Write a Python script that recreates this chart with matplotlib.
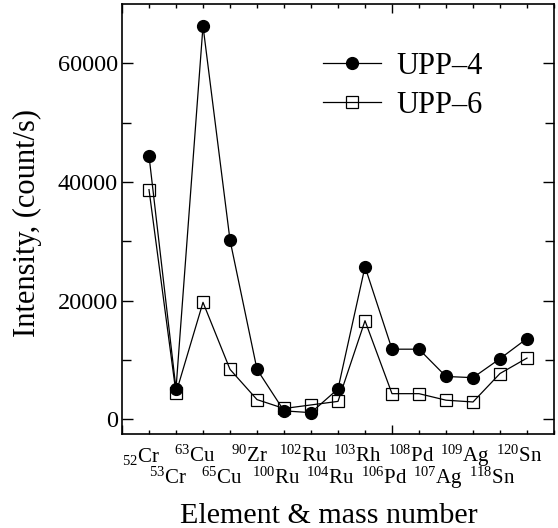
import matplotlib
matplotlib.use("Agg")
import matplotlib.pyplot as plt
from matplotlib.ticker import MultipleLocator, FixedLocator

plt.rcParams['font.family'] = 'Liberation Serif'
plt.rcParams['mathtext.fontset'] = 'custom'
plt.rcParams['mathtext.rm'] = 'Liberation Serif'
plt.rcParams['mathtext.it'] = 'Liberation Serif:italic'

# isotopes in plotting order (position 1..15)
labels = [r'$\mathregular{_{52}Cr}$', r'$\mathregular{^{53}Cr}$', r'$\mathregular{^{63}Cu}$',
          r'$\mathregular{^{65}Cu}$', r'$\mathregular{^{90}Zr}$', r'$\mathregular{^{100}Ru}$',
          r'$\mathregular{^{102}Ru}$', r'$\mathregular{^{104}Ru}$', r'$\mathregular{^{103}Rh}$',
          r'$\mathregular{^{106}Pd}$', r'$\mathregular{^{108}Pd}$', r'$\mathregular{^{107}Ag}$',
          r'$\mathregular{^{109}Ag}$', r'$\mathregular{^{118}Sn}$', r'$\mathregular{^{120}Sn}$']
pos = list(range(1, 16))

upp4 = [44400, 5100, 66300, 30200, 8400, 1400, 1100, 5100, 25700,
        11800, 11800, 7200, 7000, 10200, 13600]
upp6 = [38700, 4400, 19700, 8400, 3300, 1800, 2400, 3000, 16600,
        4300, 4300, 3200, 2900, 7700, 10300]

fig = plt.figure(figsize=(5.58, 5.28), dpi=100)
ax = fig.add_axes([122/558, 94/528, 432/558, 430/528])

l6, = ax.plot(pos, upp6, '-', color='black', lw=0.9, marker='s', ms=8.5,
              mfc='none', mec='black', mew=0.9, label='UPP\u20136')
l4, = ax.plot(pos, upp4, '-', color='black', lw=0.9, marker='o', ms=8.5,
              mfc='black', mec='black', label='UPP\u20134')

ax.set_xlim(0, 16)
ax.set_ylim(-2500, 70000)

ax.xaxis.set_major_locator(MultipleLocator(10))
ax.xaxis.set_minor_locator(MultipleLocator(1))
ax.yaxis.set_major_locator(FixedLocator([0, 20000, 40000, 60000]))
ax.yaxis.set_minor_locator(FixedLocator([10000, 30000, 50000]))
ax.set_xticklabels([])
ax.tick_params(axis='x', which='major', direction='in', length=6.5, width=1, top=True)
ax.tick_params(axis='x', which='minor', direction='in', length=3, width=1, top=True)
ax.tick_params(axis='y', which='major', direction='in', length=8, width=1, right=True,
               labelsize=17.5, pad=3)
ax.tick_params(axis='y', which='minor', direction='in', length=6.5, width=1, right=True)
for s in ax.spines.values():
    s.set_linewidth(1.2)

tr = ax.get_xaxis_transform()
for i, (p, lab) in enumerate(zip(pos, labels)):
    yy = -0.052 if i % 2 == 0 else -0.103
    ax.text(p - 0.3, yy, lab, transform=tr, ha='center', va='center', fontsize=15)

ax.text(0.479, -0.19, 'Element & mass number', transform=ax.transAxes,
        ha='center', va='center', fontsize=21.6)
ax.set_ylabel('Intensity, (count/s)', fontsize=22)
ax.yaxis.set_label_coords(-0.186, 0.49)

ax.legend(handles=[l4, l6], loc='upper left', bbox_to_anchor=(0.437, 0.917),
          frameon=False, fontsize=22, handlelength=1.9, handletextpad=0.5,
          labelspacing=0.33, borderaxespad=0)

fig.savefig('out.png', dpi=100)
